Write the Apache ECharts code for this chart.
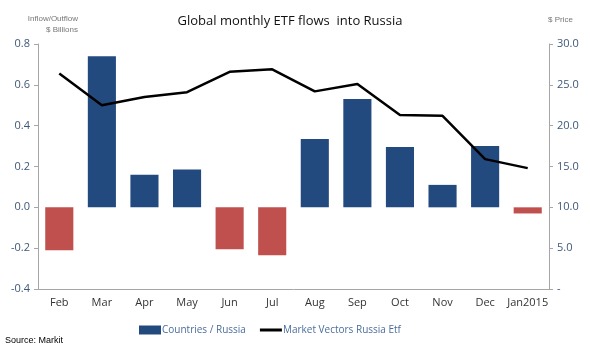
<!DOCTYPE html>
<html><head><meta charset="utf-8">
<script src="https://cdn.jsdelivr.net/npm/echarts@6/dist/echarts.min.js"></script>
<style>html,body{margin:0;padding:0;background:#fff}#c{width:590px;height:349px}</style>
</head><body><div id="c"></div>
<script>
const categories = ['Feb','Mar','Apr','May','Jun','Jul','Aug','Sep','Oct','Nov','Dec','Jan2015'];
const flows = [-0.21, 0.74, 0.16, 0.185, -0.205, -0.235, 0.335, 0.53, 0.295, 0.11, 0.30, -0.03];
const price = [26.4, 22.5, 23.5, 24.1, 26.6, 26.9, 24.2, 25.1, 21.3, 21.2, 15.9, 14.8];
const leftTicks = [-0.4, 0.8, 0.2];
const rightTicks = [0, 30, 5];

const BLUE = '#234a7f', RED = '#c0504d', LBL = '#3e5878', AX = '#a6a6a6';
const chart = echarts.init(document.getElementById('c'));
chart.setOption({
  animation: false,
  title: { text: 'Global monthly ETF flows  into Russia', left: 285, textAlign: 'center', top: 10,
    textStyle: { fontFamily: 'Open Sans', fontSize: 13, fontWeight: 'normal', color: '#111' } },
  grid: { left: 38, right: 41, top: 44, bottom: 60 },
  legend: { bottom: 9, left: 134, itemGap: 14, itemWidth: 22, itemHeight: 9,
    textStyle: { fontFamily: 'Open Sans', fontSize: 10, color: '#4a6d9c', padding: [0,0,0,-4] },
    data: [{ name: 'Countries / Russia', icon: 'rect' },
           { name: 'Market Vectors Russia Etf', icon: 'path://M0,0h22v3h-22z', itemStyle: { color: '#000' } }] },
  graphic: [
    { type: 'text', left: 5, bottom: 4, style: { text: 'Source: Markit', font: '9px Liberation Sans', fill: '#000' } },
    { type: 'text', x: 78, y: 13, style: { text: 'Inflow/Outflow\n$ Billions', font: '8px Liberation Sans', fill: '#777', align: 'right', lineHeight: 11 } },
    { type: 'text', left: 548, top: 16, style: { text: '$ Price', font: '8px Liberation Sans', fill: '#777' } }
  ],
  xAxis: [
    { type: 'category', data: categories, position: 'bottom', axisLine: { show: false }, axisTick: { show: false },
      axisLabel: { color: '#333', fontFamily: 'Open Sans', fontSize: 11, margin: 8, interval: 0 } },
    { type: 'category', data: categories, axisLine: { onZero: true, lineStyle: { color: AX, width: 1 } },
      axisTick: { show: false }, axisLabel: { show: false } }
  ],
  yAxis: [
    { type: 'value', min: leftTicks[0], max: leftTicks[1], interval: leftTicks[2], splitLine: { show: false },
      axisLine: { show: true, lineStyle: { color: AX } }, axisTick: { show: true, length: 4, lineStyle: { color: AX } },
      axisLabel: { color: LBL, fontFamily: 'Open Sans', fontSize: 11, margin: 8, formatter: v => v.toFixed(1) } },
    { type: 'value', min: rightTicks[0], max: rightTicks[1], interval: rightTicks[2], splitLine: { show: false },
      axisLine: { show: true, lineStyle: { color: AX } }, axisTick: { show: true, length: 4, lineStyle: { color: AX } },
      axisLabel: { color: LBL, fontFamily: 'Open Sans', fontSize: 11, margin: 8, formatter: v => v === 0 ? '-' : v.toFixed(1) } }
  ],
  series: [
    { name: 'Countries / Russia', type: 'bar', barWidth: '66%', itemStyle: { color: BLUE },
      data: flows.map(v => v < 0 ? { value: v, itemStyle: { color: RED } } : v) },
    { name: 'Market Vectors Russia Etf', type: 'line', yAxisIndex: 1, data: price, symbol: 'none',
      lineStyle: { color: '#000', width: 2.5 }, itemStyle: { color: '#000' } }
  ]
});
</script></body></html>
